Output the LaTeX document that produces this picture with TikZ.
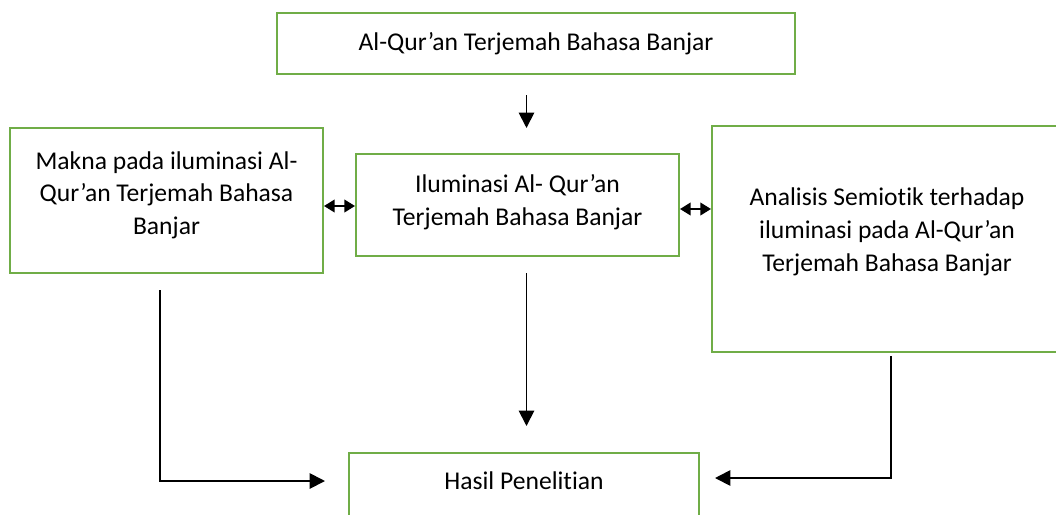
\documentclass[tikz,border=0pt]{standalone}
\usepackage{fontspec}
\setmainfont[Ligatures=NoCommon]{Carlito}
\usetikzlibrary{arrows.meta}
\definecolor{boxgreen}{HTML}{70AD47}

\begin{document}
\begin{tikzpicture}[x=0.025cm, y=-0.025cm,
  box/.style={draw=boxgreen, line width=1.4pt, align=center, inner sep=0pt,
    font=\fontsize{18.2}{23.4}\selectfont},
  flow/.style={line width=1.3pt, -{Triangle[length=11pt,width=11pt]}},
  both/.style={line width=1.1pt, {Triangle[length=7.5pt,width=9pt]}-{Triangle[length=7.5pt,width=9pt]}}]
\useasboundingbox (0,0) rectangle (1056,514);

% source
\node [box, minimum width=12.95cm, minimum height=1.525cm] (quran) at (536,43.5)
  {Al-Qur’an Terjemah Bahasa Banjar};

% middle row
\node [box, minimum width=7.825cm, minimum height=3.625cm] (makna) at (166.5,200.5)
  {Makna pada iluminasi Al-\\Qur’an Terjemah Bahasa\\Banjar\\[-12.8pt]};
\node [box, minimum width=8.075cm, minimum height=2.55cm] (ilum) at (517.5,205)
  {Iluminasi Al- Qur’an\\Terjemah Bahasa Banjar\\[-16.4pt]};
\node [box, minimum width=8.75cm, minimum height=5.65cm] (semiotik) at (887,239)
  {Analisis Semiotik terhadap\\iluminasi pada Al-Qur’an\\Terjemah Bahasa Banjar\\[-10.6pt]};

% result
\node [box, minimum width=8.75cm, minimum height=1.675cm] (hasil) at (524,486.5)
  {Hasil Penelitian\\[-15.6pt]};

% free ends
\coordinate (q1) at (526.5,95);
\coordinate (q2) at (526.5,128);
\coordinate (i1) at (526.5,273);
\coordinate (i2) at (526.5,426);
\coordinate (m1) at (160,290);
\coordinate (m2) at (325,481);
\coordinate (s1) at (891,356);
\coordinate (s2) at (715,478);

\draw [flow] (q1) -- (q2);
\draw [both] (makna.east |- 0,206) -- (ilum.west |- 0,206);
\draw [both] (ilum.east |- 0,209) -- (semiotik.west |- 0,209);
\draw [flow] (i1) -- (i2);
\draw [flow] (m1) |- (m2);
\draw [flow] (s1) |- (s2);
\end{tikzpicture}
\end{document}
